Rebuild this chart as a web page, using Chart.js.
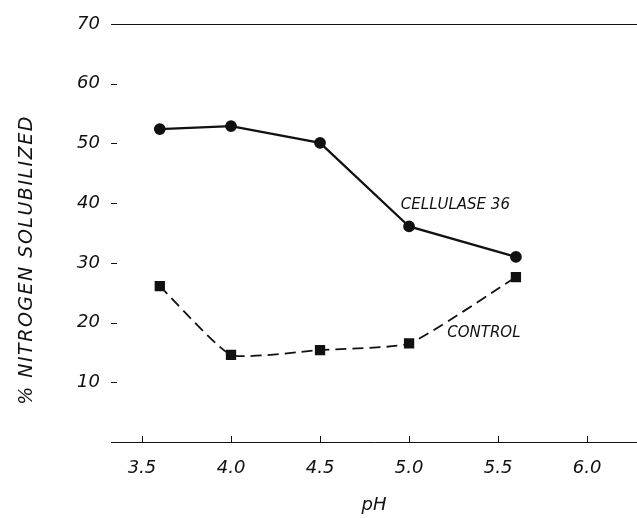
<!DOCTYPE html>
<html>
<head>
<meta charset="utf-8">
<script src="https://cdn.jsdelivr.net/npm/chart.js@4"></script>
<style>
  html, body { margin: 0; padding: 0; background: #fff; }
  #wrap { width: 637px; height: 518px; }
</style>
</head>
<body>
<div id="wrap"><canvas id="c"></canvas></div>
<script>
// values
const phValues = [3.6, 4.0, 4.5, 5.0, 5.6];
const cellulase = [52.4, 52.9, 50.1, 36.1, 31.0];
const control = [26.1, 14.6, 15.4, 16.5, 27.6];
const xTicks = [3.5, 4.0, 4.5, 5.0, 5.5, 6.0];
const yTicks = [10, 20, 30, 40, 50, 60, 70];
const seriesNames = ['CELLULASE 36', 'CONTROL'];
const namePos = [[5.26, 39.7], [5.42, 18.3]];
const yTitle = '% NITROGEN SOLUBILIZED';

const FONT = '"DejaVu Sans"';
const INK = '#111';

// tick marks point into the plot, the y title and the curve names
const inkPlugin = {
    id: 'inkPlugin',
    afterDraw: function(chart) {
        var ctx = chart.ctx,
            area = chart.chartArea,
            x = chart.scales.x,
            y = chart.scales.y;

        ctx.save();
        ctx.strokeStyle = INK;
        ctx.lineWidth = 1;
        ctx.beginPath();
        xTicks.forEach(function(v) {
            var px = Math.round(x.getPixelForValue(v)) + 0.5;
            ctx.moveTo(px, area.bottom);
            ctx.lineTo(px, area.bottom - 6);
        });
        yTicks.forEach(function(v) {
            var py = Math.round(y.getPixelForValue(v)) + 0.5;
            ctx.moveTo(area.left, py);
            ctx.lineTo(area.left + 6, py);
        });
        ctx.stroke();

        ctx.fillStyle = INK;
        ctx.font = 'italic 15px ' + FONT;
        ctx.textAlign = 'center';
        ctx.textBaseline = 'middle';
        seriesNames.forEach(function(name, i) {
            var tx = x.getPixelForValue(namePos[i][0]),
                ty = y.getPixelForValue(namePos[i][1]);
            ctx.fillText(name, tx, ty);
        });

        // rotated axis title, letter-spaced like the original
        ctx.translate(27, 260);
        ctx.rotate(-Math.PI / 2);
        ctx.font = 'italic 19px ' + FONT;
        ctx.letterSpacing = '1.5px';
        ctx.fillText(yTitle, 0, 0);
        ctx.restore();
    }
};

new Chart(document.getElementById('c'), {
    type: 'line',
    data: {
        datasets: [{
            label: seriesNames[0],
            data: phValues.map(function(p, i) { return {x: p, y: cellulase[i]}; }),
            borderColor: INK,
            backgroundColor: INK,
            borderWidth: 2.2,
            pointStyle: 'circle',
            pointRadius: 4.8,
            tension: 0
        }, {
            label: seriesNames[1],
            data: phValues.map(function(p, i) { return {x: p, y: control[i]}; }),
            borderColor: INK,
            backgroundColor: INK,
            borderWidth: 1.8,
            borderDash: [11, 6],
            pointStyle: 'rect',
            pointRadius: 6,
            tension: 0.15
        }]
    },
    options: {
        responsive: true,
        maintainAspectRatio: false,
        animation: false,
        layout: {
            autoPadding: false,
            padding: { top: 24, right: 0, left: 0, bottom: 0 }
        },
        plugins: {
            legend: { display: false },
            tooltip: { enabled: false }
        },
        scales: {
            x: {
                type: 'linear',
                min: 3.326,
                max: 6.28,
                afterFit: function(scale) {
                    scale.height = 76;
                    scale.paddingLeft = 0;
                    scale.paddingRight = 0;
                },
                afterBuildTicks: function(scale) {
                    scale.ticks = xTicks.map(function(v) { return {value: v}; });
                },
                border: { display: true, color: INK, width: 1 },
                grid: { display: false },
                ticks: {
                    color: INK,
                    padding: 8,
                    font: { family: FONT, size: 18, style: 'italic' },
                    callback: function(v) { return v.toFixed(1); }
                },
                title: {
                    display: true,
                    text: 'pH',
                    color: INK,
                    padding: { top: 0, bottom: 2 },
                    font: { family: FONT, size: 18, style: 'italic' }
                }
            },
            y: {
                min: 0,
                max: 70,
                afterFit: function(scale) {
                    scale.width = 111;
                    scale.paddingTop = 0;
                    scale.paddingBottom = 0;
                },
                afterBuildTicks: function(scale) {
                    scale.ticks = [0].concat(yTicks).map(function(v) { return {value: v}; });
                },
                border: { display: false },
                grid: {
                    drawTicks: false,
                    color: function(c) { return c.tick && c.tick.value === 70 ? INK : 'rgba(0,0,0,0)'; },
                    lineWidth: 1
                },
                ticks: {
                    color: INK,
                    padding: 11,
                    font: { family: FONT, size: 18, style: 'italic' },
                    callback: function(v) { return v === 0 ? '' : v; }
                },
                title: { display: false }
            }
        }
    },
    plugins: [inkPlugin]
});
</script>
</body>
</html>
